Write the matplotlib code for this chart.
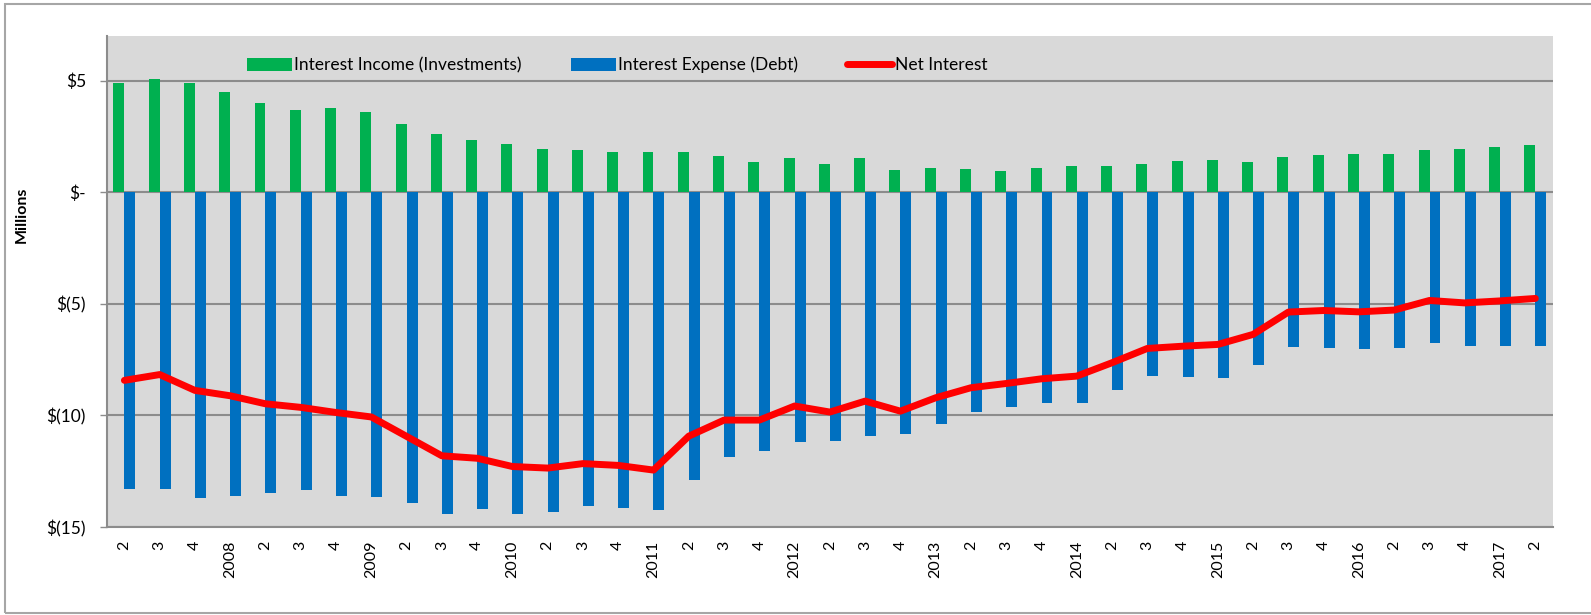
"""
Quarterly interest income vs. interest expense, with net interest line.
Writes out.png.
"""
import matplotlib

matplotlib.use("Agg")
import matplotlib.pyplot as plt
import numpy as np
from matplotlib.patches import Rectangle

# quarter labels, 2007 Q2 .. 2017 Q2 (year shown on Q1)
quarter_labels = ["2", "3", "4"]
for year in range(2008, 2017):
    quarter_labels += [str(year), "2", "3", "4"]
quarter_labels += ["2017", "2"]

# $ millions
interest_income = [
    4.88, 5.07, 4.88, 4.48, 4.00, 3.70, 3.78, 3.60, 3.06, 2.60, 2.33, 2.15,
    1.94, 1.91, 1.82, 1.79, 1.79, 1.64, 1.36, 1.52, 1.28, 1.52, 1.00, 1.07,
    1.06, 0.96, 1.07, 1.18, 1.19, 1.28, 1.40, 1.46, 1.37, 1.57, 1.67, 1.70,
    1.70, 1.87, 1.93, 2.03, 2.10,
]
interest_expense = [
    -13.29, -13.29, -13.71, -13.59, -13.47, -13.35, -13.62, -13.65, -13.94,
    -14.40, -14.18, -14.40, -14.34, -14.07, -14.13, -14.25, -12.90, -11.88,
    -11.60, -11.18, -11.13, -10.91, -10.85, -10.37, -9.87, -9.63, -9.43,
    -9.43, -8.88, -8.24, -8.28, -8.31, -7.75, -6.93, -6.97, -7.04, -6.99,
    -6.75, -6.87, -6.87, -6.87,
]
net_interest = [
    -8.43, -8.17, -8.88, -9.12, -9.48, -9.64, -9.87, -10.07, -10.94, -11.81,
    -11.92, -12.29, -12.36, -12.16, -12.24, -12.45, -10.93, -10.21, -10.21,
    -9.58, -9.85, -9.36, -9.81, -9.21, -8.76, -8.57, -8.36, -8.24, -7.64,
    -7.00, -6.90, -6.82, -6.37, -5.37, -5.30, -5.36, -5.28, -4.85, -4.96,
    -4.87, -4.76,
]

y_ticks = [5, 0, -5, -10, -15]
y_tick_labels = ["$5", "$-", "$(5)", "$(10)", "$(15)"]

GREEN = "#00b050"
BLUE = "#0070c0"
RED = "#ff0000"
PLOT_BG = "#d9d9d9"
GRID = "#8c8c8c"


def main():
    plt.rcParams["font.family"] = ["Lato", "DejaVu Sans"]
    plt.rcParams["font.size"] = 11

    fig = plt.figure(figsize=(15.91, 6.15), dpi=100)
    ax = fig.add_axes([0.0671, 0.1431, 0.9090, 0.7984])
    ax.set_facecolor(PLOT_BG)

    x = np.arange(len(quarter_labels))
    w = 0.31
    inc = ax.bar(x - w / 2, interest_income, width=w, color=GREEN,
                 label="Interest Income (Investments)", zorder=2)
    exp = ax.bar(x + w / 2, interest_expense, width=w, color=BLUE,
                 label="Interest Expense (Debt)", zorder=2)
    (net,) = ax.plot(x, net_interest, color=RED, linewidth=5,
                     solid_capstyle="round", label="Net Interest", zorder=3)

    ax.set_xlim(-0.5, len(quarter_labels) - 0.5)
    ax.set_ylim(-15, 7)
    ax.set_yticks(y_ticks)
    ax.set_yticklabels(y_tick_labels, fontsize=12.5)
    ax.set_xticks(x)
    ax.set_xticklabels(quarter_labels, rotation=90, fontsize=11.5, va="top")
    ax.tick_params(axis="x", length=0, pad=10)
    ax.tick_params(axis="y", length=5, width=1, color=GRID, pad=10)

    ax.set_axisbelow(True)
    ax.yaxis.grid(True, color=GRID, linewidth=1.5)
    for side in ("top", "right"):
        ax.spines[side].set_visible(False)
    ax.spines["left"].set_color(GRID)
    ax.spines["bottom"].set_color(GRID)
    ax.spines["left"].set_linewidth(1.5)
    ax.spines["bottom"].set_linewidth(1.5)

    ax.legend(handles=[inc, exp, net], loc="center left",
              bbox_to_anchor=(0.086, 0.941), ncol=3, frameon=False,
              fontsize=12.5, handlelength=2.6, handleheight=0.75,
              handletextpad=0.15, columnspacing=2.8)

    fig.text(22 / 1591, 1 - 215 / 615, "Millions", rotation=90,
             fontsize=11.5, fontweight="bold", ha="center", va="center")

    # chart area border
    fig.patches.append(Rectangle((5 / 1591, 2 / 615), 1.2, 1 - 6 / 615,
                                 transform=fig.transFigure, fill=False,
                                 edgecolor="#a6a6a6", linewidth=1.5))

    fig.savefig("out.png", dpi=100)
    plt.close(fig)


if __name__ == "__main__":
    main()
